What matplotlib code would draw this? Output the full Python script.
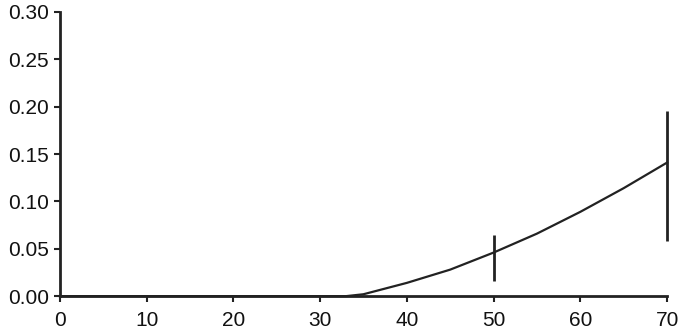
import matplotlib
matplotlib.use("Agg")
import matplotlib.pyplot as plt

plt.rcParams['font.family'] = ['Liberation Sans', 'DejaVu Sans']

# curve
age = [0, 10, 20, 30, 33, 35, 40, 45, 50, 55, 60, 65, 70]
risk = [0, 0, 0, 0, 0, 0.002, 0.014, 0.028, 0.046, 0.066, 0.089, 0.114, 0.141]

# vertical bars
bar_x = [50, 70]
bar_lo = [0.016, 0.058]
bar_hi = [0.065, 0.195]

xticks = [0, 10, 20, 30, 40, 50, 60, 70]
yticks = [0.00, 0.05, 0.10, 0.15, 0.20, 0.25, 0.30]

ink = '#222222'

fig = plt.figure(figsize=(6.8, 3.32), dpi=100)
ax = fig.add_axes([0.088, 0.108, 0.893, 0.856])

ax.plot(age, risk, color=ink, linewidth=1.6, zorder=3, clip_on=False)
ax.vlines(bar_x, bar_lo, bar_hi, color=ink, linewidth=2, zorder=3, clip_on=False)

ax.set_xlim(0, 70)
ax.set_ylim(0, 0.30)
ax.set_xticks(xticks)
ax.set_yticks(yticks)
ax.set_yticklabels([f"{v:.2f}" for v in yticks])

for s in ['top', 'right']:
    ax.spines[s].set_visible(False)
for s in ['left', 'bottom']:
    ax.spines[s].set_linewidth(2)
    ax.spines[s].set_color(ink)
    ax.spines[s].set_zorder(4)

ax.tick_params(axis='both', colors=ink, width=1.5, length=4, labelsize=15, labelcolor='#111111')
ax.tick_params(axis='x', pad=7)
ax.tick_params(axis='y', pad=4)

fig.savefig("out.png", dpi=100)
